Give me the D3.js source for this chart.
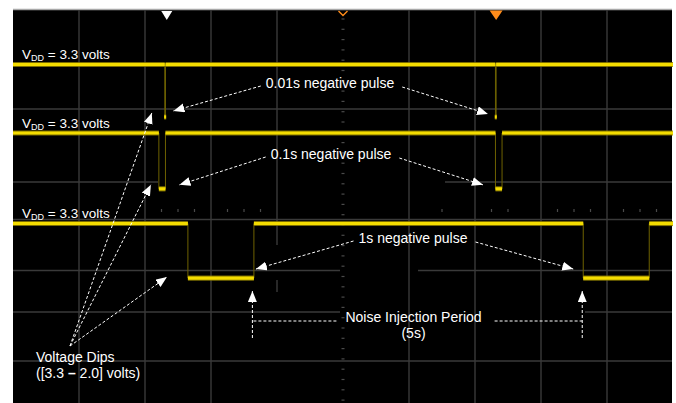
<!DOCTYPE html>
<html>
<head>
<meta charset="utf-8">
<script src="https://cdn.jsdelivr.net/npm/d3@7"></script>
<style>
  html, body { margin: 0; padding: 0; background: #ffffff; }
  svg { display: block; }
  text { font-family: "Liberation Sans", Arial, Helvetica, sans-serif; fill: #ffffff; }
</style>
</head>
<body>
<svg id="scope" width="676" height="403"></svg>
<script>
// Three captures of the VDD rail, one per injected pulse width (1 s/div, 10 divisions)
const channels = ["0.01s", "0.1s", "1s"];
const vddLevel = [3.3, 3.3, 3.3];            // volts, resting level
const dipLevel = [2.06, 1.98, 2.01];         // volts, bottom of each dip
const pulseWidth = [0.01, 0.1, 1];           // seconds
const pulseStarts = [[2.30, 7.31], [2.21, 7.31], [2.65, 8.64]]; // seconds
const timeDomain = [0, 10];
const markerTimes = { trigger: 2.33, center: 5, cursor: 7.32 };

const pulseLabels = ["0.01s negative pulse", "0.1s negative pulse", "1s negative pulse"];
const periodLabel = ["Noise Injection Period", "(5s)"];
const dipLabel = ["Voltage Dips", "([3.3 ", "\u2013", " 2.0] volts)"];

// ---- layout ----
const plot = { left: 13, right: 673, top: 10, bottom: 403 };
const channelTop = [64.5, 133, 223.5];       // screen row of each channel's 3.3 V level
const pxPerVolt = 42.3;

const svg = d3.select("#scope");
const x = d3.scaleLinear().domain(timeDomain).range([plot.left, plot.right]);
const yCh = channelTop.map((top, i) =>
  d3.scaleLinear().domain([vddLevel[i] - 1, vddLevel[i]]).range([top + pxPerVolt, top]));

// screen background
svg.append("rect").attr("x", plot.left).attr("y", plot.top)
  .attr("width", plot.right - plot.left - 1).attr("height", plot.bottom - plot.top)
  .attr("fill", "#000000");
svg.append("line").attr("x1", plot.left).attr("x2", plot.right - 1)
  .attr("y1", 9.5).attr("y2", 9.5).attr("stroke", "#a8a8a8").attr("stroke-width", 1.5);

// ---- graticule ----
const grid = svg.append("g").attr("stroke", "#3a3a3a").attr("stroke-width", 1.4);
const vGrid = [
  { d: 1, spans: [[10, 403]] }, { d: 2, spans: [[10, 403]] }, { d: 3, spans: [[10, 403]] },
  { d: 4, spans: [[10, 245], [280, 292]] },
  { d: 6, spans: [[10, 403]] }, { d: 7, spans: [[10, 403]] }, { d: 8, spans: [[10, 403]] },
  { d: 9, spans: [[10, 403]] }
];
vGrid.forEach(g => g.spans.forEach(s => {
  grid.append("line").attr("x1", x(g.d)).attr("x2", x(g.d)).attr("y1", s[0]).attr("y2", s[1]);
}));
const hGrid = [
  { y: 109, spans: [[13, 672]] },
  { y: 182, spans: [[13, 158], [445, 672]] },
  { y: 219.5, spans: [[13, 672]] },
  { y: 270.5, spans: [[13, 340], [418, 672]] },
  { y: 312, spans: [[13, 340], [585, 672]] },
  { y: 361, spans: [[13, 672]] }
];
hGrid.forEach(g => g.spans.forEach(s => {
  grid.append("line").attr("y1", g.y).attr("y2", g.y).attr("x1", s[0]).attr("x2", s[1]);
}));

// minor ticks along the centre column
const tickG = svg.append("g").attr("stroke", "#4a4a4a").attr("stroke-width", 1.2);
d3.range(19, 402, 10.3).forEach(ty => {
  tickG.append("line").attr("x1", x(5) - 1.5).attr("x2", x(5) + 1.5).attr("y1", ty).attr("y2", ty);
});
// minor ticks along a horizontal row (quarter divisions)
const rowTicks = [9, 10, 11, 13, 14, 15, 26, 29, 30, 33, 34, 35, 37, 38, 39];
rowTicks.forEach(k => {
  const tx = x(k / 4);
  tickG.append("line").attr("x1", tx).attr("x2", tx).attr("y1", 209).attr("y2", 212);
});

// ---- traces ----
const traceG = svg.append("g");
channels.forEach((name, i) => {
  const y = yCh[i];
  const starts = pulseStarts[i];
  const w = pulseWidth[i];
  // horizontal runs: high between pulses, low during each pulse
  const highRuns = [];
  let t = timeDomain[0];
  starts.forEach(s => { highRuns.push([t, s]); t = s + w; });
  highRuns.push([t, timeDomain[1]]);
  const lowRuns = starts.map(s => [s, s + w]);

  // thin, dim transition edges
  starts.forEach(s => {
    [s, s + w].forEach(te => {
      traceG.append("line")
        .attr("x1", x(te)).attr("x2", x(te))
        .attr("y1", y(vddLevel[i])).attr("y2", y(dipLevel[i]))
        .attr("stroke", "#6e6200").attr("stroke-width", 1);
    });
  });

  const drawRun = (run, level) => {
    const x0 = x(run[0]), x1 = x(run[1]);
    const cx = (x0 + x1) / 2, half = Math.max((x1 - x0) / 2, 1);
    const yy = y(level);
    traceG.append("line").attr("x1", cx - half).attr("x2", cx + half)
      .attr("y1", yy).attr("y2", yy)
      .attr("stroke", "#8f7f00").attr("stroke-width", 5.2).attr("stroke-opacity", 0.85);
    traceG.append("line").attr("x1", cx - half).attr("x2", cx + half)
      .attr("y1", yy).attr("y2", yy)
      .attr("stroke", "#f4dc00").attr("stroke-width", 3.2);
  };
  highRuns.forEach(r => drawRun(r, vddLevel[i]));
  lowRuns.forEach(r => drawRun(r, dipLevel[i]));
});

// ---- top markers ----
const mk = svg.append("g");
const xt = x(markerTimes.trigger), xc = x(markerTimes.center), xr = x(markerTimes.cursor);
mk.append("path").attr("d", `M${xt - 5.5},11 L${xt + 5.5},11 L${xt},20 Z`).attr("fill", "#ffffff");
mk.append("path").attr("d", `M${xc - 4.5},11 L${xc},15.5 L${xc + 4.5},11`)
  .attr("fill", "none").attr("stroke", "#ff8c1a").attr("stroke-width", 1.4);
mk.append("path").attr("d", `M${xr - 6.5},10.5 L${xr + 6.5},10.5 L${xr},20 Z`).attr("fill", "#ff8c1a");

// ---- annotations ----
const defs = svg.append("defs");
defs.append("marker").attr("id", "head")
  .attr("markerUnits", "userSpaceOnUse")
  .attr("markerWidth", 12).attr("markerHeight", 10)
  .attr("refX", 11).attr("refY", 4.5).attr("orient", "auto")
  .append("path").attr("d", "M0,0 L11,4.5 L0,9 Z").attr("fill", "#ffffff");

const ann = svg.append("g");
const dashed = (x1, y1, x2, y2, head) => {
  const l = ann.append("line").attr("x1", x1).attr("y1", y1).attr("x2", x2).attr("y2", y2)
    .attr("stroke", "#ffffff").attr("stroke-width", 1).attr("stroke-dasharray", "3,2");
  if (head) l.attr("marker-end", "url(#head)");
  return l;
};

// VDD labels
channels.forEach((name, i) => {
  const t = ann.append("text").attr("x", 22).attr("y", yCh[i](vddLevel[i]) - 5.5)
    .attr("font-size", 13.5);
  t.append("tspan").text("V");
  t.append("tspan").attr("font-size", 9).attr("dy", 2).text("DD");
  t.append("tspan").attr("dy", -2).text(" = " + vddLevel[i] + " volts");
});

// pulse labels with arrows pointing at each dip
const labelPos = [{ cx: 330, y: 88 }, { cx: 331, y: 159 }, { cx: 413, y: 243 }];
const tipOffsets = [
  { l: [8, -6], r: [-7.5, -3] },
  { l: [14, -4], r: [-12.5, -4] },
  { l: [2, -9], r: [-10, -9] }
];
channels.forEach((name, i) => {
  const p = labelPos[i];
  const t = ann.append("text").attr("x", p.cx).attr("y", p.y)
    .attr("text-anchor", "middle").attr("font-size", 14).text(pulseLabels[i]);
  const len = t.node().getComputedTextLength();
  const left = p.cx - len / 2, right = p.cx + len / 2;
  const yLow = yCh[i](dipLevel[i]);
  const s0 = pulseStarts[i][0], s1 = pulseStarts[i][1];
  const o = tipOffsets[i];
  dashed(left - 5, p.y - 2, x(s0 + pulseWidth[i]) + o.l[0], yLow + o.l[1], true);
  dashed(right + 8, p.y - 1, x(s1) + o.r[0], yLow + o.r[1], true);
});

// noise injection period: from end of one 1 s pulse to start of the next
{
  const i = 2;
  const yLow = yCh[i](dipLevel[i]);
  const xa = x(pulseStarts[i][0] + pulseWidth[i]) - 1.5;
  const xb = x(pulseStarts[i][1]) - 1;
  const cx = 413.5;
  const t1 = ann.append("text").attr("x", cx).attr("y", 322).attr("text-anchor", "middle")
    .attr("font-size", 14).text(periodLabel[0]);
  ann.append("text").attr("x", cx).attr("y", 338).attr("text-anchor", "middle")
    .attr("font-size", 14).text(periodLabel[1]);
  const len = t1.node().getComputedTextLength();
  dashed(cx - len / 2 - 9, 321, xa, 321, false);
  dashed(cx + len / 2 + 13, 321, xb, 321, false);
  dashed(xa, 338, xa, yLow + 13, true);
  dashed(xb, 338, xb, yLow + 13, true);
}

// voltage dips callout
{
  ann.append("text").attr("x", 36).attr("y", 362).attr("font-size", 14).text(dipLabel[0]);
  const t2 = ann.append("text").attr("x", 36).attr("y", 378).attr("font-size", 14);
  t2.append("tspan").text(dipLabel[1]);
  t2.append("tspan").attr("font-weight", "bold").text(dipLabel[2]);
  t2.append("tspan").text(dipLabel[3]);
  const origin = [70, 346];
  const dipTips = [[-13, -4], [-8, -4], [-21, -1]];
  channels.forEach((name, i) => {
    dashed(origin[0], origin[1],
      x(pulseStarts[i][0]) + dipTips[i][0], yCh[i](dipLevel[i]) + dipTips[i][1], true);
  });
}
</script>
</body>
</html>
